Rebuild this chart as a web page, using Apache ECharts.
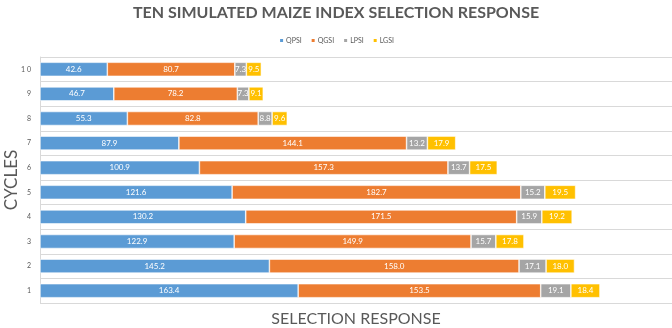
<!DOCTYPE html>
<html>
<head>
<meta charset="utf-8">
<script src="https://cdn.jsdelivr.net/npm/echarts@6/dist/echarts.min.js"></script>
<style>
  html, body { margin: 0; padding: 0; background: #fff; }
  #main { width: 672px; height: 328px; }
</style>
</head>
<body>
<div id="main"></div>
<script>
const cycles = ['1', '2', '3', '4', '5', '6', '7', '8', '9', '1 0']
const qpsi = [163.4, 145.2, 122.9, 130.2, 121.6, 100.9, 87.9, 55.3, 46.7, 42.6]
const qgsi = [153.5, 158.0, 149.9, 171.5, 182.7, 157.3, 144.1, 82.8, 78.2, 80.7]
const lpsi = [19.1, 17.1, 15.7, 15.9, 15.2, 13.7, 13.2, 8.8, 7.3, 7.3]
const lgsi = [18.4, 18.0, 17.8, 19.2, 19.5, 17.5, 17.9, 9.6, 9.1, 9.5]

const font = 'Lato'
const chart = echarts.init(document.getElementById('main'))

const mk = (name, data, color) => ({
  name,
  type: 'bar',
  stack: 'total',
  data,
  barWidth: 14,
  itemStyle: { color, borderColor: '#fff', borderWidth: 0.6 },
  label: {
    show: true,
    position: 'inside',
    color: '#fff',
    fontFamily: font,
    fontSize: 8,
    formatter: p => p.value.toFixed(1)
  }
})

chart.setOption({
  animation: false,
  textStyle: { fontFamily: font },
  title: {
    text: 'TEN SIMULATED MAIZE INDEX SELECTION RESPONSE',
    left: 'center',
    top: 0,
    textStyle: { fontFamily: font, fontSize: 16, fontWeight: 'bold', color: '#595959' }
  },
  legend: {
    top: 32,
    left: 'center',
    itemWidth: 5,
    itemHeight: 5,
    itemGap: 8,
    icon: 'rect',
    textStyle: { fontSize: 7, color: '#595959', padding: [0, 0, 0, -3] },
    data: ['QPSI', 'QGSI', 'LPSI', 'LGSI']
  },
  grid: { left: 40, right: 0, top: 57, bottom: 25, outerBoundsMode: 'none' },
  xAxis: {
    type: 'value',
    min: 0,
    max: 400,
    axisLabel: { show: false },
    axisLine: { show: false },
    axisTick: { show: false },
    splitLine: { show: false },
    name: 'SELECTION RESPONSE',
    nameLocation: 'middle',
    nameGap: 8,
    nameTextStyle: { fontSize: 16, color: '#595959' }
  },
  yAxis: {
    type: 'category',
    data: cycles,
    axisLine: { show: true, lineStyle: { color: '#D9D9D9' } },
    axisTick: { show: false },
    axisLabel: { fontSize: 7, color: '#595959', margin: 9 },
    splitLine: { show: true, lineStyle: { color: '#D9D9D9', width: 1 } },
    name: 'CYCLES',
    nameLocation: 'middle',
    nameRotate: 90,
    nameGap: 20,
    nameMoveOverlap: false,
    nameTextStyle: { fontSize: 17, color: '#595959' }
  },
  series: [
    mk('QPSI', qpsi, '#5B9BD5'),
    mk('QGSI', qgsi, '#ED7D31'),
    mk('LPSI', lpsi, '#A5A5A5'),
    mk('LGSI', lgsi, '#FFC000')
  ]
})
</script>
</body>
</html>
